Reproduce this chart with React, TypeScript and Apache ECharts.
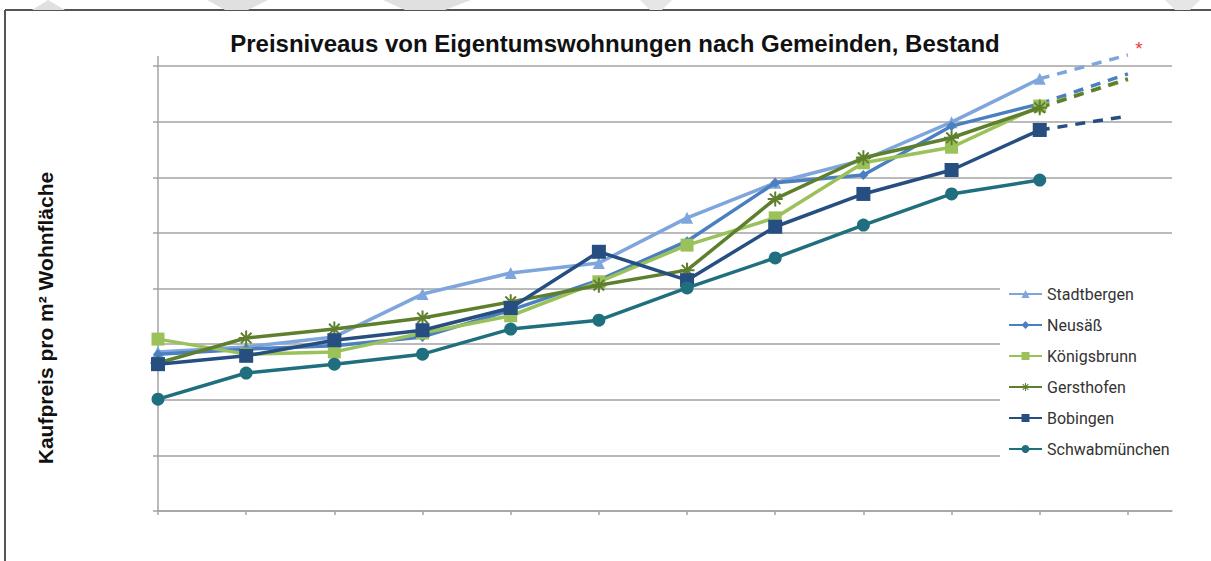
import React, { useEffect, useRef } from "react";
import * as echarts from "echarts";

const periodIndex = [0, 1, 2, 3, 4, 5, 6, 7, 8, 9, 10];
const trendIndex = [10, 11];

const names = ["Stadtbergen", "Neusäß", "Königsbrunn", "Gersthofen", "Bobingen", "Schwabmünchen"];

const stadtbergen = [2.86, 2.95, 3.13, 3.9, 4.28, 4.46, 5.27, 5.9, 6.31, 6.99, 7.77];
const neusaess = [2.82, 2.91, 2.97, 3.13, 3.61, 4.15, 4.85, 5.9, 6.04, 6.92, 7.32];
const koenigsbrunn = [3.09, 2.82, 2.86, 3.2, 3.51, 4.12, 4.78, 5.27, 6.26, 6.54, 7.28];
const gersthofen = [2.66, 3.11, 3.27, 3.47, 3.76, 4.06, 4.33, 5.61, 6.35, 6.71, 7.25];
const bobingen = [2.64, 2.79, 3.07, 3.25, 3.65, 4.66, 4.15, 5.11, 5.7, 6.13, 6.85];
const schwabmuenchen = [2.01, 2.48, 2.64, 2.82, 3.27, 3.43, 4.01, 4.55, 5.14, 5.7, 5.95];

// projected value for the dashed trend segment (null = no trend)
const trendEnd = [8.2, 7.86, 7.75, 7.77, 7.1, null];

const colors = ["#7ea6dc", "#4a7fc1", "#9bc15a", "#5e7f2e", "#264e80", "#1f6f7e"];
const symbols = [
  "triangle",
  "diamond",
  "rect",
  "path://M-0.8,-6 L0.8,-6 L0.8,6 L-0.8,6 Z M-6,-0.8 L6,-0.8 L6,0.8 L-6,0.8 Z M-4.8,-3.7 L-3.7,-4.8 L4.8,3.7 L3.7,4.8 Z M3.7,-4.8 L4.8,-3.7 L-3.7,4.8 L-4.8,3.7 Z",
  "rect",
  "circle",
];
const symbolSizes = [12, 10, 13, 15, 14, 13];

const allSeries = [stadtbergen, neusaess, koenigsbrunn, gersthofen, bobingen, schwabmuenchen];

export default function App() {
  const ref = useRef<HTMLDivElement>(null);
  useEffect(() => {
    if (!ref.current) return;
    const chart = echarts.init(ref.current, null, { renderer: "svg" });
    const series: any[] = [];
    allSeries.forEach((vals, k) => {
      series.push({
        name: names[k],
        type: "line",
        data: periodIndex.map((x, i) => [x, vals[i]]),
        symbol: symbols[k],
        symbolSize: symbolSizes[k],
        showSymbol: true,
        color: colors[k],
        lineStyle: { width: 3.5, color: colors[k] },
        itemStyle: { color: colors[k] },
        clip: false,
        z: 2 + k,
      });
    });
    allSeries.forEach((vals, k) => {
      const t = trendEnd[k];
      if (t === null) return;
      series.push({
        name: names[k] + " Trend",
        type: "line",
        data: [
          [trendIndex[0], vals[vals.length - 1]],
          [trendIndex[1], t],
        ],
        symbol: "none",
        lineStyle: { width: 3.5, color: colors[k], type: [10, 8] },
        clip: false,
        z: 2,
      });
    });

    const gridColor = "#a3a3a3";
    chart.setOption({
      animation: false,
      backgroundColor: "#ffffff",
      title: {
        text: "Preisniveaus von Eigentumswohnungen nach Gemeinden, Bestand",
        left: 610,
        textAlign: "center",
        top: 26,
        textStyle: {
          fontFamily: "Liberation Sans",
          fontWeight: "bold",
          fontSize: 24,
          color: "#111",
        },
      },
      legend: {
        data: names,
        orient: "vertical",
        left: 1000,
        top: 276,
        padding: [10, 30, 10, 8],
        backgroundColor: "#ffffff",
        itemWidth: 33,
        itemHeight: 10,
        itemGap: 15,
        textStyle: { fontFamily: "Roboto", fontSize: 16, color: "#333" },
        z: 10,
      },
      grid: { left: 158, top: 66, right: 39, bottom: 50, containLabel: false },
      xAxis: {
        type: "value",
        min: 0,
        max: 11.5,
        interval: 1,
        axisLine: { show: true, lineStyle: { color: gridColor, width: 1.5 } },
        axisTick: {
          show: true,
          length: 4,
          customValues: [0, 1, 2, 3, 4, 5, 6, 7, 8, 9, 10, 11],
          lineStyle: { color: gridColor, width: 1.5 },
        },
        axisLabel: { show: false },
        splitLine: { show: false },
      },
      yAxis: {
        type: "value",
        min: 0,
        max: 8,
        interval: 1,
        axisLine: { show: true, lineStyle: { color: gridColor, width: 1.5 } },
        axisTick: { show: true, length: 5, lineStyle: { color: gridColor, width: 1.5 } },
        axisLabel: { show: false },
        splitLine: { show: true, lineStyle: { color: gridColor, width: 1.5 } },
      },
      graphic: [
        { type: "line", shape: { x1: 5, y1: 10, x2: 1211, y2: 10 }, style: { stroke: "#555", lineWidth: 2 } },
        { type: "line", shape: { x1: 5, y1: 10, x2: 5, y2: 561 }, style: { stroke: "#555", lineWidth: 2 } },
        { type: "polygon", shape: { points: [[48, 0], [32, 10], [65, 10]] }, style: { fill: "#e0e0e0" } },
        { type: "polygon", shape: { points: [[207, 0], [268, 0], [248, 10], [225, 10]] }, style: { fill: "#e0e0e0" } },
        { type: "polygon", shape: { points: [[383, 0], [471, 0], [445, 10], [405, 10]] }, style: { fill: "#e0e0e0" } },
        { type: "polygon", shape: { points: [[640, 0], [672, 0], [662, 10], [650, 10]] }, style: { fill: "#e6e6e6" } },
        { type: "polygon", shape: { points: [[1165, 0], [1200, 0], [1190, 10], [1175, 10]] }, style: { fill: "#e6e6e6" } },
        { type: "line", shape: { x1: 158, y1: 56, x2: 158, y2: 66 }, style: { stroke: gridColor, lineWidth: 1.5 } },
        {
          type: "text",
          x: 45,
          y: 318,
          rotation: Math.PI / 2,
          style: {
            text: "Kaufpreis pro m² Wohnfläche",
            fontFamily: "Liberation Sans",
            fontWeight: "bold",
            fontSize: 21,
            fill: "#111",
            textAlign: "center",
            textVerticalAlign: "middle",
          },
        },
        {
          type: "text",
          x: 1139,
          y: 48,
          style: {
            text: "*",
            fontFamily: "Liberation Sans",
            fontSize: 19,
            fill: "#e8383d",
            textAlign: "center",
            textVerticalAlign: "middle",
          },
        },
      ],
      series,
    });
    return () => chart.dispose();
  }, []);
  return (
    <div
      ref={ref}
      style={{ position: "fixed", left: 0, top: 0, width: 1211, height: 561, background: "#fff" }}
    />
  );
}
